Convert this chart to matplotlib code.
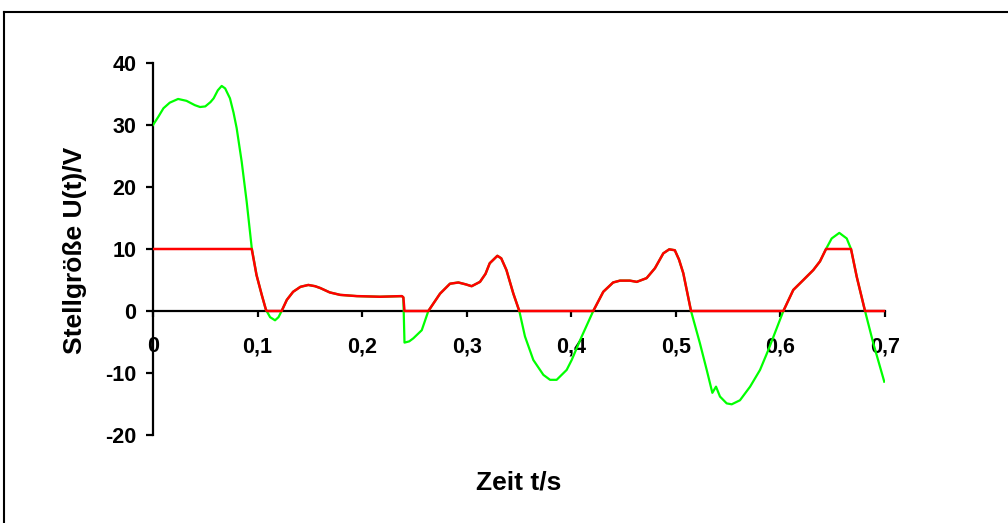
import matplotlib
matplotlib.use('Agg')
import matplotlib.pyplot as plt
from matplotlib.lines import Line2D

plt.rcParams['font.family'] = ['Liberation Sans', 'DejaVu Sans']
plt.rcParams['font.weight'] = 'bold'
plt.rcParams['axes.unicode_minus'] = False  # "-10" mit Bindestrich wie im Original

# Stellgroesse ohne Begrenzung (gruen)
t_green = [0.000, 0.005, 0.010, 0.016, 0.024, 0.032, 0.040, 0.045, 0.050, 0.055,
           0.058, 0.062, 0.0657, 0.069, 0.0736, 0.077, 0.080, 0.0848, 0.0896, 0.0944,
           0.099, 0.104, 0.108, 0.112, 0.1167, 0.120, 0.123, 0.128, 0.134, 0.141,
           0.1485, 0.155, 0.160, 0.169, 0.179, 0.195, 0.217, 0.238, 0.2394, 0.2405,
           0.245, 0.249, 0.257, 0.2633, 0.2745, 0.284, 0.292, 0.299, 0.3047, 0.3127,
           0.318, 0.322, 0.3293, 0.333, 0.338, 0.3446, 0.3503, 0.3557, 0.3637, 0.3733, 0.3797,
           0.386, 0.3956, 0.4004, 0.410, 0.421, 0.4306, 0.440, 0.4466, 0.456, 0.4626,
           0.472, 0.480, 0.488, 0.4937, 0.499, 0.503, 0.5071, 0.5145, 0.523, 0.5295, 0.5349,
           0.5384, 0.5422, 0.5486, 0.5534, 0.5613, 0.571, 0.5805, 0.5884, 0.5964, 0.6028,
           0.6123, 0.6219, 0.6314, 0.6378, 0.6436, 0.649, 0.6563, 0.6634, 0.6675, 0.673,
           0.6809, 0.6888, 0.6993]
u_green = [30.0, 31.3, 32.7, 33.6, 34.2, 33.9, 33.2, 32.9, 33.0, 33.7,
           34.3, 35.6, 36.3, 35.9, 34.3, 32.0, 29.5, 24.1, 17.6, 10.2,
           5.8, 2.6, 0.2, -1.0, -1.5, -1.0, 0.0, 1.8, 3.1, 3.9,
           4.2, 4.0, 3.7, 3.0, 2.6, 2.4, 2.3, 2.4, 2.2, -5.1,
           -4.9, -4.4, -3.1, 0.0, 2.8, 4.4, 4.6, 4.3, 4.0, 4.7,
           6.0, 7.7, 8.9, 8.5, 6.6, 2.8, 0.0, -4.1, -7.9, -10.3, -11.1,
           -11.1, -9.5, -7.9, -4.1, 0.0, 3.1, 4.6, 4.9, 4.9, 4.7,
           5.3, 6.9, 9.3, 9.95, 9.8, 8.3, 6.1, 0.0, -5.2, -9.5, -13.2,
           -12.2, -13.8, -14.9, -15.05, -14.4, -12.2, -9.5, -6.3, -2.8, 0.0,
           3.4, 5.0, 6.6, 8.0, 10.0, 11.7, 12.6, 11.7, 10.0, 5.5,
           0.0, -5.2, -11.4]

# begrenzte Stellgroesse 0..10 V (rot)
t_red = [0.000, 0.0944, 0.099, 0.104, 0.108, 0.109, 0.123, 0.128, 0.134, 0.141,
         0.1485, 0.155, 0.160, 0.169, 0.179, 0.195, 0.217, 0.238, 0.2394, 0.2405,
         0.2633, 0.2745, 0.284, 0.292, 0.299, 0.3047, 0.3127, 0.318, 0.322, 0.3293, 0.333,
         0.338, 0.3446, 0.3503, 0.421, 0.4306, 0.440, 0.4466, 0.456, 0.4626, 0.472,
         0.480, 0.488, 0.4937, 0.499, 0.503, 0.5071, 0.5145, 0.6028, 0.6123, 0.6219, 0.6314,
         0.6378, 0.6436, 0.6675, 0.673, 0.6809, 0.700]
u_red = [10.0, 10.0, 5.8, 2.6, 0.2, 0.0, 0.0, 1.8, 3.1, 3.9,
         4.2, 4.0, 3.7, 3.0, 2.6, 2.4, 2.3, 2.4, 2.2, 0.0,
         0.0, 2.8, 4.4, 4.6, 4.3, 4.0, 4.7, 6.0, 7.7, 8.9, 8.5,
         6.6, 2.8, 0.0, 0.0, 3.1, 4.6, 4.9, 4.9, 4.7, 5.3,
         6.9, 9.3, 9.95, 9.8, 8.3, 6.1, 0.0, 0.0, 3.4, 5.0, 6.6,
         8.0, 10.0, 10.0, 5.5, 0.0, 0.0]

x_ticks = [0, 0.1, 0.2, 0.3, 0.4, 0.5, 0.6, 0.7]
x_tick_labels = ['0', '0,1', '0,2', '0,3', '0,4', '0,5', '0,6', '0,7']
y_ticks = [-20, -10, 0, 10, 20, 30, 40]

fig = plt.figure(figsize=(10.08, 5.23), dpi=100)
ax = fig.add_axes([153 / 1008, 1 - 435 / 523, 732 / 1008, 372 / 523])

ax.plot(t_green, u_green, color='#00ff00', lw=1.6, zorder=3)
ax.plot(t_red, u_red, color='#ff0000', lw=1.8, zorder=4)

ax.set_xlim(0, 0.7)
ax.set_ylim(-20, 40)
ax.set_xticks(x_ticks)
ax.set_xticklabels(x_tick_labels)
ax.set_yticks(y_ticks)

for side in ['top', 'right']:
    ax.spines[side].set_visible(False)
ax.spines['bottom'].set_position(('data', 0))
ax.spines['left'].set_linewidth(1.6)
ax.spines['bottom'].set_linewidth(1.6)
ax.tick_params(axis='both', direction='out', width=1.6, labelsize=15.5)
ax.tick_params(axis='x', length=4, pad=14)
ax.tick_params(axis='y', length=5, pad=7)

ax.set_xlabel('Zeit t/s', fontsize=19, fontweight='bold')
ax.xaxis.set_label_coords(0.5, (435 - 482) / 372)
ax.xaxis.label.set_verticalalignment('center')
ax.set_ylabel('Stellgröße U(t)/V', fontsize=19, fontweight='bold')
ax.yaxis.set_label_coords((75 - 153) / 732, (435 - 250) / 372)
ax.yaxis.label.set_verticalalignment('center')

# Rahmen (nur links und oben sichtbar)
fig.add_artist(Line2D([4 / 1008, 4 / 1008], [0, 1 - 12 / 523], color='black', lw=1.5))
fig.add_artist(Line2D([4 / 1008, 1], [1 - 12 / 523, 1 - 12 / 523], color='black', lw=1.5))

fig.savefig('out.png', dpi=100)
